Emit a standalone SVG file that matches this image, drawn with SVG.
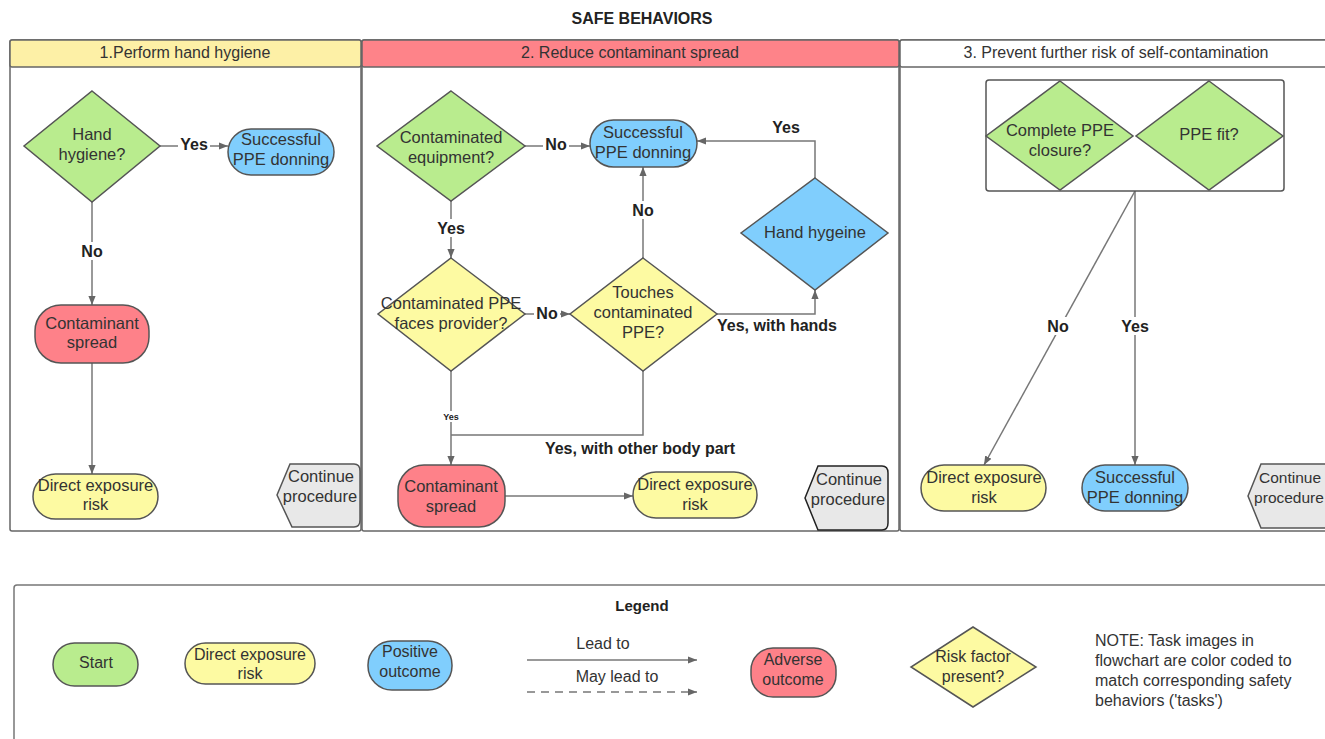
<svg xmlns="http://www.w3.org/2000/svg" width="1325" height="739" viewBox="0 0 1325 739">
<style>
text{font-family:"Liberation Sans",Arial,sans-serif;fill:#333;text-anchor:middle}
.t{font-size:16.5px}
.h{font-size:16px}
.lb{font-size:16px;font-weight:bold;fill:#222}
.lg{font-size:16px}
.sh{stroke:#555;stroke-width:1.5}
.g{fill:#b9ec8e}.y{fill:#fdfaa2}.b{fill:#80cefd}.r{fill:#fe8189}.gr{fill:#e8e8e8}
.ln{fill:none;stroke:#777;stroke-width:1.5}
.bg{fill:#fff}
</style>
<defs>
<marker id="ah" viewBox="0 0 10 10" refX="10" refY="5" markerWidth="9" markerHeight="9" markerUnits="userSpaceOnUse" orient="auto">
<path d="M0,1 L10,5 L0,9 Z" fill="#666"/>
</marker>
</defs>
<rect width="1325" height="739" fill="#fff"/>
<text x="642" y="24" style="font-size:16px;font-weight:bold;fill:#222">SAFE BEHAVIORS</text>

<g id="lane1">
<rect x="10" y="40" width="351" height="491" rx="2" fill="#fff" stroke="#666" stroke-width="1.5"/>
<rect x="10" y="40" width="351" height="27" rx="2" fill="#fdf0a6" stroke="#666" stroke-width="1.5"/>
<text class="h" x="185" y="58">1.Perform hand hygiene</text>
</g>
<g id="lane2">
<rect x="362" y="40" width="537" height="491" rx="2" fill="#fff" stroke="#666" stroke-width="1.5"/>
<rect x="362" y="40" width="537" height="27" rx="2" fill="#fe8389" stroke="#666" stroke-width="1.5"/>
<text class="h" x="630" y="58">2. Reduce contaminant spread</text>
</g>
<g id="lane3">
<rect x="900" y="40" width="440" height="491" rx="2" fill="#fff" stroke="#666" stroke-width="1.5"/>
<rect x="900" y="40" width="440" height="27" rx="2" fill="#fff" stroke="#666" stroke-width="1.5"/>
<text class="h" x="1116" y="58">3. Prevent further risk of self-contamination</text>
</g>

<g id="connectors">
<path class="ln" d="M160,146 H228" marker-end="url(#ah)"/>
<path class="ln" d="M92,202 V305" marker-end="url(#ah)"/>
<path class="ln" d="M92,363 V474" marker-end="url(#ah)"/>
<path class="ln" d="M525,146 H590" marker-end="url(#ah)"/>
<path class="ln" d="M815,178 V141 H697" marker-end="url(#ah)"/>
<path class="ln" d="M643,258 V167" marker-end="url(#ah)"/>
<path class="ln" d="M451,201 V258" marker-end="url(#ah)"/>
<path class="ln" d="M525,314 H570" marker-end="url(#ah)"/>
<path class="ln" d="M717,314 H815 V290" marker-end="url(#ah)"/>
<path class="ln" d="M451,371 V465" marker-end="url(#ah)"/>
<path class="ln" d="M643,371 V435 H451"/>
<path class="ln" d="M505,496 H633" marker-end="url(#ah)"/>
<path class="ln" d="M1135,191 L984,465" marker-end="url(#ah)"/>
<path class="ln" d="M1135,191 V465" marker-end="url(#ah)"/>
<rect class="bg" x="178" y="136" width="32" height="18"/>
<text class="lb" x="194" y="150">Yes</text>
<rect class="bg" x="79" y="242" width="26" height="18"/>
<text class="lb" x="92" y="257">No</text>
<rect class="bg" x="543" y="136" width="26" height="18"/>
<text class="lb" x="556" y="150">No</text>
<text class="lb" x="786" y="133">Yes</text>
<rect class="bg" x="630" y="201" width="26" height="18"/>
<text class="lb" x="643" y="216">No</text>
<rect class="bg" x="435" y="219" width="32" height="18"/>
<text class="lb" x="451" y="234">Yes</text>
<rect class="bg" x="534" y="305" width="26" height="18"/>
<text class="lb" x="547" y="319">No</text>
<text class="lb" x="777" y="331">Yes, with hands</text>
<rect class="bg" x="442" y="411" width="18" height="11"/>
<text x="451" y="420" style="font-size:9px;font-weight:bold;fill:#222">Yes</text>
<text class="lb" x="640" y="454">Yes, with other body part</text>
<rect class="bg" x="1045" y="317" width="26" height="18"/>
<text class="lb" x="1058" y="332">No</text>
<rect class="bg" x="1119" y="317" width="32" height="18"/>
<text class="lb" x="1135" y="332">Yes</text>
</g>

<g id="n-hand-hygiene">
<polygon class="g sh" points="92,91 160,146 92,202 24,146"/>
<text class="t" x="92" y="140">Hand</text><text class="t" x="92" y="160">hygiene?</text>
</g>
<g id="n-success1">
<rect class="b sh" x="228" y="129" width="106" height="46" rx="23"/>
<text class="t" x="281" y="145">Successful</text><text class="t" x="281" y="165">PPE donning</text>
</g>
<g id="n-spread1">
<rect class="r sh" x="35" y="305" width="114" height="58" rx="26"/>
<text class="t" x="92" y="329">Contaminant</text><text class="t" x="92" y="348">spread</text>
</g>
<g id="n-exposure1">
<rect class="y sh" x="33" y="474" width="125" height="45" rx="22.5"/>
<text class="t" x="95.5" y="491">Direct exposure</text><text class="t" x="95.5" y="510">risk</text>
</g>
<g id="n-continue1">
<path class="gr sh" d="M277,495 L290,464 L354,464 Q360,464 360,471 L360,520 Q360,527 354,527 L292,527 Z"/>
<text class="t" x="321" y="482">Continue</text><text class="t" x="320" y="502">procedure</text>
</g>

<g id="n-equipment">
<polygon class="g sh" points="451,91 525,146 451,201 377,146"/>
<text class="t" x="451" y="143">Contaminated</text><text class="t" x="451" y="163">equipment?</text>
</g>
<g id="n-success2">
<rect class="b sh" x="590" y="120" width="107" height="47" rx="23.5"/>
<text class="t" x="643" y="138">Successful</text><text class="t" x="643" y="158">PPE donning</text>
</g>
<g id="n-hand-hygeine">
<polygon class="b sh" points="815,178 888,233 815,290 741,233"/>
<text class="t" x="815" y="238">Hand hygeine</text>
</g>
<g id="n-faces">
<polygon class="y sh" points="451,258 525,314 451,371 378,314"/>
<text class="t" x="451" y="309">Contaminated PPE</text><text class="t" x="451" y="329">faces provider?</text>
</g>
<g id="n-touches">
<polygon class="y sh" points="643,258 717,314 643,371 570,314"/>
<text class="t" x="643" y="298">Touches</text><text class="t" x="643" y="318">contaminated</text><text class="t" x="643" y="338">PPE?</text>
</g>
<g id="n-spread2">
<rect class="r sh" x="398" y="465" width="107" height="62" rx="26"/>
<text class="t" x="451" y="492">Contaminant</text><text class="t" x="451" y="512">spread</text>
</g>
<g id="n-exposure2">
<rect class="y sh" x="633" y="472" width="124" height="46" rx="23"/>
<text class="t" x="695" y="490">Direct exposure</text><text class="t" x="695" y="510">risk</text>
</g>
<g id="n-continue2">
<path class="gr" stroke="#222" stroke-width="1.5" d="M805,498 L818,466 L882,466 Q888,466 888,473 L888,523 Q888,530 882,530 L818,530 Z"/>
<text class="t" x="849" y="485">Continue</text><text class="t" x="848" y="505">procedure</text>
</g>

<g id="n-ppe-group">
<rect x="986" y="80" width="298" height="111" rx="3" fill="#fff" stroke="#555" stroke-width="1.5"/>
<polygon class="g sh" points="1060,81 1133,136 1060,190 986,136"/>
<text class="t" x="1060" y="136">Complete PPE</text><text class="t" x="1060" y="156">closure?</text>
<polygon class="g sh" points="1209,81 1283,136 1209,190 1136,136"/>
<text class="t" x="1209" y="140">PPE fit?</text>
</g>
<g id="n-exposure3">
<rect class="y sh" x="921" y="465" width="125" height="46" rx="23"/>
<text class="t" x="984" y="483">Direct exposure</text><text class="t" x="984" y="503">risk</text>
</g>
<g id="n-success3">
<rect class="b sh" x="1082" y="465" width="106" height="46" rx="23"/>
<text class="t" x="1135" y="483">Successful</text><text class="t" x="1135" y="503">PPE donning</text>
</g>
<g id="n-continue3">
<path class="gr sh" d="M1248,496 L1261,464 L1335,464 L1335,528 L1261,528 Z"/>
<text x="1290" y="483" style="font-size:15.5px">Continue</text><text x="1289" y="503" style="font-size:15.5px">procedure</text>
</g>

<g id="legend">
<rect x="14" y="585" width="1330" height="170" rx="3" fill="#fff" stroke="#777" stroke-width="1.5"/>
<text x="642" y="611" style="font-size:15px;font-weight:bold;fill:#222">Legend</text>
<rect class="g sh" x="53" y="643" width="85" height="43" rx="21.5"/>
<text class="lg" x="96" y="668">Start</text>
<rect class="y sh" x="185" y="643" width="130" height="41" rx="20.5"/>
<text class="lg" x="250" y="660">Direct exposure</text><text class="lg" x="250" y="679">risk</text>
<rect class="b sh" x="368" y="641" width="84" height="49" rx="24"/>
<text class="lg" x="410" y="657">Positive</text><text class="lg" x="410" y="677">outcome</text>
<text class="lg" x="603" y="649">Lead to</text>
<path class="ln" d="M527,660 H697" marker-end="url(#ah)"/>
<text class="lg" x="617" y="682">May lead to</text>
<path class="ln" d="M527,692 H697" stroke-dasharray="8,6" marker-end="url(#ah)"/>
<rect class="r sh" x="751" y="648" width="85" height="49" rx="22"/>
<text class="lg" x="793" y="665">Adverse</text><text class="lg" x="793" y="685">outcome</text>
<polygon class="y sh" points="973,627 1036,667 973,707 911,667"/>
<text class="lg" x="973" y="662">Risk factor</text><text class="lg" x="973" y="682">present?</text>
<text class="lg" x="1095" y="646" style="text-anchor:start">NOTE: Task images in</text>
<text class="lg" x="1095" y="666" style="text-anchor:start">flowchart are color coded to</text>
<text class="lg" x="1095" y="686" style="text-anchor:start">match corresponding safety</text>
<text class="lg" x="1095" y="706" style="text-anchor:start">behaviors ('tasks')</text>
</g>
</svg>
